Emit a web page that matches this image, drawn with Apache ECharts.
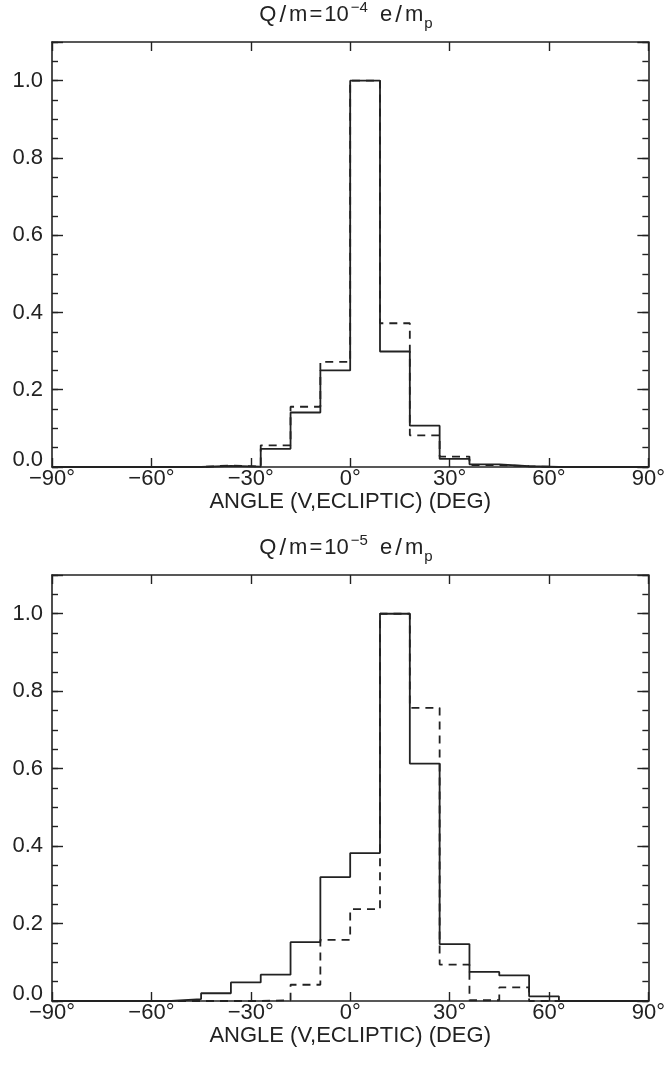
<!DOCTYPE html>
<html>
<head>
<meta charset="utf-8">
<script src="https://cdn.jsdelivr.net/npm/echarts@6/dist/echarts.min.js"></script>
<style>
html,body{margin:0;padding:0;background:#fff;}
#chart{width:668px;height:1068px;}
</style>
</head>
<body>
<div id="chart"></div>
<script>
// bin left edges (degrees), bin width 9
var binStarts = [-90,-81,-72,-63,-54,-45,-36,-27,-18,-9,0,9,18,27,36,45,54,63,72,81];
var binEnd = 90;
var xTicks = [-90,-60,-30,0,30,60,90];
var yTickLabels = [0.0,0.2,0.4,0.6,0.8,1.0];

// Panel 1: Q/m = 1e-4
var top_solid  = [0,0,0,0,0,0.003,0.001,0.047,0.141,0.250,1.000,0.299,0.107,0.021,0.007,0.002,0,0,0,0];
var top_dashed = [0,0,0,0,0,0.004,0.001,0.056,0.156,0.272,1.000,0.372,0.082,0.027,0.005,0.002,0,0,0,0];
// Panel 2: Q/m = 1e-5
var bot_solid  = [0,0,0,0,0.005,0.020,0.048,0.068,0.152,0.320,0.382,1.000,0.613,0.147,0.075,0.066,0.012,0,0,0];
var bot_dashed = [0,0,0,0,0,0,0,0.002,0.042,0.158,0.237,1.000,0.757,0.094,0.002,0.035,0,0,0,0];

var titleExps = ['−4', '−5'];
var xName = 'ANGLE (V,ECLIPTIC) (DEG)';

function stepData(vals){
  var d = [];
  for (var i=0;i<binStarts.length;i++) d.push([binStarts[i], vals[i]]);
  d.push([binEnd, vals[vals.length-1]]);
  return d;
}

var FONT = 'Liberation Sans';
var INK = '#222';
var FS = 22;
var gridDefs = [{top:42, h:425}, {top:575, h:426}];

var grids=[], xAxes=[], yAxes=[], series=[], graphics=[];
gridDefs.forEach(function(g, gi){
  grids.push({left:52, width:598, top:g.top, height:g.h, containLabel:false});
  xAxes.push({type:'value', gridIndex:gi, position:'bottom', min:-90, max:90, interval:30,
    axisLine:{show:true, onZero:false, lineStyle:{color:INK, width:1.6}},
    axisTick:{show:true, inside:true, length:9, lineStyle:{color:INK, width:1.4}},
    axisLabel:{show:true, margin:1, color:INK, fontFamily:FONT, fontSize:FS,
      formatter:function(v){ return (v<0?'\u2212':'') + Math.abs(v) + '\u00b0'; }},
    splitLine:{show:false},
    name:xName, nameLocation:'middle', nameGap:19,
    nameTextStyle:{color:INK, fontFamily:FONT, fontSize:FS}
  });
  xAxes.push({type:'value', gridIndex:gi, position:'top', min:-90, max:90, interval:30,
    axisLine:{show:true, onZero:false, lineStyle:{color:INK, width:1.6}},
    axisTick:{show:true, inside:true, length:9, lineStyle:{color:INK, width:1.4}},
    axisLabel:{show:false}, splitLine:{show:false}
  });
  ['left','right'].forEach(function(pos){
    yAxes.push({type:'value', gridIndex:gi, position:pos, min:0, max:1.1, interval:0.2,
      axisLine:{show:true, onZero:false, lineStyle:{color:INK, width:1.6}},
      axisTick:{show:true, inside:true, length:11, lineStyle:{color:INK, width:1.4}},
      axisLabel:{show:pos==='left', margin:9, color:INK, fontFamily:FONT, fontSize:FS,
        formatter:function(v){
          if (Math.abs(v*5-Math.round(v*5))>1e-6) return '';
          if (Math.abs(v)<1e-9) return '{z|0.0}';
          return v.toFixed(1);
        },
        rich:{z:{fontFamily:FONT, fontSize:FS, color:INK, padding:[0,0,14,0]}}
      },
      splitLine:{show:false}
    });
    yAxes.push({type:'value', gridIndex:gi, position:pos, min:0, max:1.1, interval:0.05,
      axisLine:{show:false, onZero:false},
      axisTick:{show:true, inside:true, length:6, lineStyle:{color:INK, width:1.4}},
      axisLabel:{show:false}, splitLine:{show:false}
    });
  });
  var vals = gi===0 ? [top_solid, top_dashed] : [bot_solid, bot_dashed];
  series.push({type:'line', xAxisIndex:gi*2, yAxisIndex:gi*4, step:'end', data:stepData(vals[0]),
    symbol:'none', silent:true, z:3, lineStyle:{color:INK, width:1.8, type:'solid'}});
  series.push({type:'line', xAxisIndex:gi*2, yAxisIndex:gi*4, step:'end', data:stepData(vals[1]),
    symbol:'none', silent:true, z:2, lineStyle:{color:INK, width:1.8, type:[8,6]}});

  graphics.push({type:'text', x:346, y:g.top-27, style:{
    text:'{a|Q}{s|/}{a|m}{e|=}{a|10}{sup|'+titleExps[gi]+'}{a|  e}{s|/}{a|m}{sub|p}',
    align:'center', verticalAlign:'middle', fill:INK,
    rich:{
      a:{fontFamily:FONT, fontSize:FS, fill:INK, lineHeight:32, verticalAlign:'middle'},
      s:{fontFamily:FONT, fontSize:FS+2, fill:INK, lineHeight:32, verticalAlign:'middle', padding:[0,3,0,3]},
      e:{fontFamily:FONT, fontSize:FS, fill:INK, lineHeight:32, verticalAlign:'middle', padding:[0,2,0,2]},
      sup:{fontFamily:FONT, fontSize:15, fill:INK, lineHeight:32, verticalAlign:'top', padding:[1,0,0,2]},
      sub:{fontFamily:FONT, fontSize:15, fill:INK, lineHeight:32, verticalAlign:'bottom', padding:[0,0,0,1]}
    }
  }});
});

var chart = echarts.init(document.getElementById('chart'), null, {renderer:'canvas'});
chart.setOption({
  animation:false,
  backgroundColor:'#fff',
  grid:grids, xAxis:xAxes, yAxis:yAxes, series:series,
  graphic:graphics
});
</script>
</body>
</html>
